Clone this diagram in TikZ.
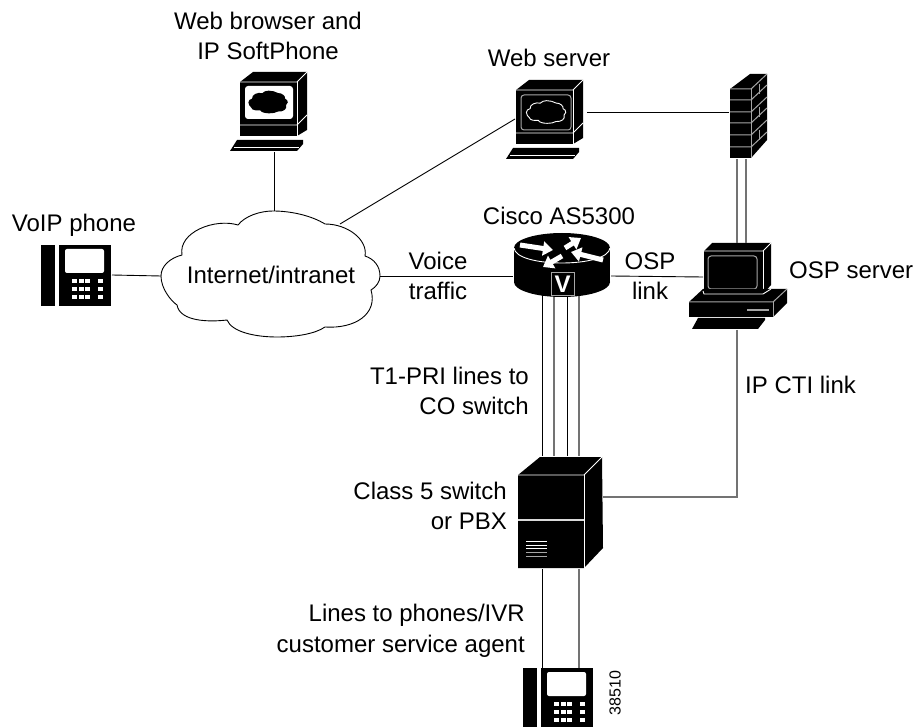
\documentclass[tikz,border=0pt]{standalone}
\usepackage{fontspec}
\setmainfont{Liberation Sans}
\usetikzlibrary{arrows.meta}
\tikzset{
  lbl/.style={font=\fontsize{24}{30.5}\selectfont, inner sep=0pt, align=center},
  lblr/.style={lbl, align=right, anchor=east},
  link/.style={draw=black, line width=.9pt},
  glink/.style={draw=black!55, line width=1.2pt},
  edge/.style={draw=white, line width=.9pt},
  gedge/.style={draw=black!35, line width=1pt},
  flow/.style={draw=white, line width=5pt, -{Triangle[length=10pt,width=14pt]}},
  pics/phone/.style={code={
    \fill (0,0) rectangle (14,61);
    \fill (18,0) rectangle (70,61);
    \fill[white, rounded corners=2pt] (24,4) rectangle (63,28);
    \foreach \kx in {31,38,44,57} \foreach \ky in {34,42,50}
      \fill[white] (\kx,\ky) rectangle ++(4.5,3.8);
    \coordinate (-east) at (71,30);
    \coordinate (-n1) at (19,0);
    \coordinate (-n2) at (56,0);
  }},
  pics/browserpc/.style={code={
    \pcbody
    \fill[white, rounded corners=3pt] (5,4) rectangle (53,37);
    \fill[black, shift={(28,20)}, scale=.18] \cloudpath;
    \coordinate (-south) at (34,70);
  }},
  pics/serverpc/.style={code={
    \pcbody
    \draw[gedge, rounded corners=3pt] (5,5) rectangle (55,40);
    \draw[edge, fill=black, shift={(30,22)}, scale=.18] \cloudpath;
    \coordinate (-west) at (-1,29);
    \coordinate (-east) at (71,22);
  }},
  pics/firewall/.style={code={
    \fill (0,0) -- (20,-15) -- (37,-15) -- (37,51) -- (21,69) -- (0,69) -- cycle;
    \draw[gedge] (0,0) -- (21,0) -- (37,-15);
    \draw[gedge] (21,0) -- (21,69);
    \foreach \by in {11,23,34,46,58} {
      \draw[gedge] (0,\by) -- (21,\by) -- (37,\by-15);
    }
    \foreach \by in {1,24,47} \draw[gedge] (29,\by-6) -- (29,\by+4);
    \coordinate (-west) at (-1,23);
    \coordinate (-s1) at (7,70);
    \coordinate (-s2) at (16,70);
  }},
  pics/osppc/.style={code={
    \fill (0,0) -- (8,-8) -- (67,-8) -- (67,34) -- (59,43) -- (0,43) -- cycle;
    \draw[edge] (0,0) -- (59,0) -- (67,-8);
    \draw[edge] (59,0) -- (59,43);
    \draw[gedge, rounded corners=3pt] (4,5) rectangle (53,38);
    \fill (-1,38) -- (83,38) -- (83,52) -- (69,66) -- (-15,66) -- (-15,51) -- cycle;
    \draw[edge] (-1,40) -- (0,43) -- (59,43) -- (67,38);
    \draw[gedge] (-15,51) -- (69,51) -- (83,38);
    \draw[gedge] (69,51) -- (69,66);
    \draw[gedge, line width=1.6pt] (43,59) -- (65,59);
    \fill (-6,67) -- (61,67) -- (61,69) -- (54,78) -- (-12,78) -- cycle;
    \coordinate (-west) at (-1,26);
    \coordinate (-south) at (33,79);
    \coordinate (-n1) at (33,-8);
    \coordinate (-n2) at (42,-8);
  }},
  pics/router/.style={code={
    \fill (-48,0) rectangle (48,34);
    \fill (0,0) ellipse [x radius=48, y radius=15];
    \fill (0,34) ellipse [x radius=48, y radius=15];
    \draw[edge] (-48,0) .. controls (-46,20) and (46,20) .. (48,0);
    \draw[flow] (-42,-3) -- (-9,2);
    \draw[flow] (3,0) -- (19,-10);
    \draw[flow] (41,12) -- (9,4);
    \draw[flow] (0,8) -- (-19,19);
    \draw[gedge, fill=black] (-11,25) rectangle (12,48);
    \node[text=white, inner sep=0pt, font=\fontsize{24}{24}\selectfont\bfseries] (routerV) at (.5,36.5) {V};
    \coordinate (-west) at (-49,28);
    \coordinate (-east) at (49,28);
    \coordinate (-s1) at (-20,47);
    \coordinate (-s2) at (-8,49);
    \coordinate (-s3) at (5,49);
    \coordinate (-s4) at (17,48);
  }},
  pics/switchbox/.style={code={
    \fill (0,0) -- (22,-18) -- (84,-18) -- (85,73) -- (66,93) -- (0,93) -- cycle;
    \draw[edge] (0,0) -- (66,0) -- (84,-18);
    \draw[edge] (66,0) -- (66,93);
    \draw[gedge, draw=black!15, line width=1.4pt] (0,45) -- (66,45);
    \foreach \vy in {66,70,73} \draw[edge] (8,\vy) -- (29,\vy);
    \foreach \vy in {77,81} \draw[gedge] (8,\vy) -- (29,\vy);
    \coordinate (-east) at (85,22);
    \coordinate (-n1) at (24,-19);
    \coordinate (-n2) at (36,-19);
    \coordinate (-n3) at (49,-19);
    \coordinate (-n4) at (61,-19);
    \coordinate (-s1) at (24,94);
    \coordinate (-s2) at (61,94);
  }}
}
\def\cloudpath{(-109,2) .. controls (-109,-8) and (-100,-16) .. (-88,-19)
  .. controls (-92,-42) and (-55,-56) .. (-32,-49)
  .. controls (-25,-58) and (-10,-63) .. (3,-63)
  .. controls (22,-63) and (42,-58) .. (55,-50)
  .. controls (78,-50) and (98,-34) .. (95,-18)
  .. controls (104,-15) and (110,-8) .. (110,2)
  .. controls (110,8) and (106,13) .. (101,16)
  .. controls (108,40) and (85,55) .. (55,53)
  .. controls (45,60) and (25,63) .. (7,63)
  .. controls (-15,63) and (-38,58) .. (-43,46)
  .. controls (-60,48) and (-90,48) .. (-93,31)
  .. controls (-100,26) and (-109,14) .. (-109,2) -- cycle}
\newcommand{\pcbody}{
  \fill (0,0) -- (13,-10) -- (67,-10) -- (67,48) -- (57,54) -- (0,54) -- cycle;
  \draw[edge] (0,0) -- (57,0) -- (67,-10);
  \draw[edge] (57,0) -- (57,54);
  \draw[edge] (0,43) -- (57,43) -- (67,33);
  \fill (-3,58) -- (63,58) -- (63,62) -- (57,69) -- (-10,69) -- cycle;
  \draw[edge] (-6,65.5) -- (59,65.5);
}
\begin{document}
\begin{tikzpicture}[x=1pt, y=-1pt]
  \clip (0,0) rectangle (916,727);
  \fill[white] (0,0) rectangle (916,727);

  % devices
  \pic (phoneL) at (41,245) {phone};
  \pic (phoneB) at (523,668) {phone};
  \pic (browser) at (240,82) {browserpc};
  \pic (webserver) at (516,90) {serverpc};
  \pic (fw) at (730,89) {firewall};
  \pic (osp) at (704,251) {osppc};
  \pic (as) at (562,248) {router};
  \pic (pbx) at (518,475) {switchbox};

  % cloud
  \draw[link, shift={(270,274)}] \cloudpath;
  \node[lbl] (net) at (271,275) {Internet/intranet};
  \coordinate (netW) at (161,276);
  \coordinate (netN) at (274,211);
  \coordinate (netNE) at (340,224);
  \coordinate (netE) at (380,276);
  \coordinate (corner) at (737,497);

  % connectors
  \draw[link] (phoneL-east) -- (netW);
  \draw[link] (browser-south) -- (netN);
  \draw[link] (netNE) -- (webserver-west);
  \draw[link] (netE) -- (as-west);
  \draw[link] (webserver-east) -- (fw-west);
  \draw[glink] (fw-s1) -- (osp-n1);
  \draw[glink] (fw-s2) -- (osp-n2);
  \draw[link] (as-east) -- (osp-west);
  \draw[link] (as-s1) -- (pbx-n1);
  \draw[glink] (as-s2) -- (pbx-n2);
  \draw[link] (as-s3) -- (pbx-n3);
  \draw[glink] (as-s4) -- (pbx-n4);
  \draw[glink] (osp-south) -- (corner) -- (pbx-east);
  \draw[link] (pbx-s1) -- (phoneB-n1);
  \draw[glink] (pbx-s2) -- (phoneB-n2);

  % labels
  \node[lbl] (browserlbl) at (268,36) {Web browser and\\IP SoftPhone};
  \node[lbl] (webserverlbl) at (549,58) {Web server};
  \node[lbl] (aslbl) at (559,216) {Cisco AS5300};
  \node[lbl] (phonelbl) at (74,225) {VoIP phone};
  \node[lbl] (voicelbl) at (438,276) {Voice\\traffic};
  \node[lbl] (osplinklbl) at (650,276) {OSP\\link};
  \node[lbl, anchor=west] (ospserverlbl) at (789,270) {OSP server};
  \node[lblr] (t1lbl) at (529,391) {T1-PRI lines to\\CO switch};
  \node[lbl, anchor=west] (ctilbl) at (745,385) {IP CTI link};
  \node[lblr] (pbxlbl) at (507,506) {Class 5 switch\\or PBX};
  \node[lblr] (lineslbl) at (525,631) {Lines to phones/IVR\\customer service agent};
  \node[inner sep=0pt, rotate=90, font=\fontsize{16}{16}\selectfont] (figno) at (615,693) {38510};
\end{tikzpicture}
\end{document}
